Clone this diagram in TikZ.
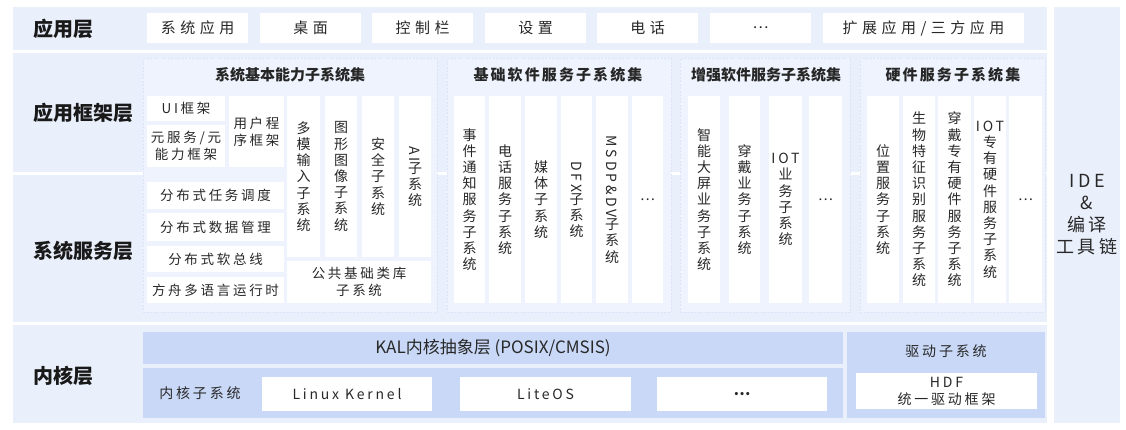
\documentclass[tikz,border=0pt]{standalone}
\usepackage{fontspec}
\usepackage{graphicx}
\setmainfont{Noto Sans CJK SC}
\newfontfamily\ta[LetterSpace=30]{Noto Sans CJK SC}
\newfontfamily\tb[LetterSpace=20]{Noto Sans CJK SC}
\newfontfamily\tc[LetterSpace=14]{Noto Sans CJK SC}
\definecolor{band}{RGB}{233,239,251}
\definecolor{grp}{RGB}{238,243,253}
\definecolor{grpline}{RGB}{220,229,248}
\definecolor{deep}{RGB}{200,216,246}
\definecolor{txt}{RGB}{40,40,40}
\newcommand\R[7]{\node[#2,anchor=north west,outer sep=0pt,inner sep=0pt,minimum width={(#5-#3)*1pt},minimum height={(#6-#4)*1pt}] (#1) at (#3,#4) {#7};}
\tikzset{
  bandbox/.style={fill=band,draw=none},
  wbox/.style={fill=white,draw=none,text=txt,align=center},
  topbox/.style={wbox,font=\ta\fontsize{15}{18}\selectfont},
  smallbox/.style={wbox,font=\tb\fontsize{13.5}{17}\selectfont},
  colbox/.style={wbox,font=\tb\fontsize{14}{16.2}\selectfont},
  grpbox/.style={fill=grp,draw=grpline,dash pattern=on 2pt off 1.5pt,line width=0.8pt},
  deepbox/.style={fill=deep,draw=none,text=txt,align=center},
  layer/.style={anchor=west,font=\fontsize{20}{24}\selectfont\bfseries,text=black!90},
  gtitle/.style={font=\fontsize{15}{18}\selectfont\bfseries,text=black!85},
  plain/.style={text=txt,align=center,font=\tb\fontsize{14}{17}\selectfont},
}
\begin{document}
\begin{tikzpicture}[x=1pt,y=-1pt]
\useasboundingbox[fill=white] (0,0) rectangle (1126,429);
% bands
\R{topband}{bandbox}{13}{7}{1047}{50}{}
\R{fwband}{bandbox}{13}{53}{1047}{172}{}
\R{svband}{bandbox}{13}{175}{1047}{322}{}
\R{kband}{bandbox}{13}{325}{1047}{423}{}
\R{ide}{bandbox,align=center,text=txt,font=\tb\fontsize{18}{22}\selectfont}{1054}{7}{1120}{423}{IDE\\\&\\编译\\工具链}
% layer labels
\node[layer] (l1) at (30,29) {应用层};
\node[layer] (l2) at (30,113) {应用框架层};
\node[layer] (l3) at (30,251) {系统服务层};
\node[layer] (l4) at (30,376) {内核层};
% application row
\R{a1}{topbox}{147}{13}{248}{43}{系统应用}
\R{a2}{topbox}{260}{13}{361}{43}{桌面}
\R{a3}{topbox}{372}{13}{473}{43}{控制栏}
\R{a4}{topbox}{485}{13}{586}{43}{设置}
\R{a5}{topbox}{597}{13}{698}{43}{电话}
\R{a6}{topbox}{710}{13}{811}{43}{…}
\R{a7}{topbox}{823}{13}{1024}{43}{扩展应用/三方应用}
% groups
\R{g1}{grpbox}{143}{58}{437}{312}{}
\R{g2}{grpbox}{447}{58}{671}{312}{}
\R{g3}{grpbox}{680}{58}{850}{312}{}
\R{g4}{grpbox}{860}{58}{1045}{312}{}
\node[gtitle] (t1) at (290,75) {系统基本能力子系统集};
\node[gtitle,font=\tc\fontsize{15}{18}\selectfont\bfseries] (t2) at (558,75) {基础软件服务子系统集};
\node[gtitle] (t3) at (766,75) {增强软件服务子系统集};
\node[gtitle,font=\tc\fontsize{15}{18}\selectfont\bfseries] (t4) at (953,75) {硬件服务子系统集};
% group 1
\R{ui}{smallbox}{147}{96}{225}{121}{UI框架}
\R{meta}{smallbox}{147}{125}{225}{167}{元服务/元\\能力框架}
\R{user}{smallbox}{229}{96}{284}{167}{用户程\\序框架}
\R{dm}{colbox}{287}{96}{320}{257}{多\\模\\输\\入\\子\\系\\统}
\R{gr}{colbox}{325}{96}{357}{257}{图\\形\\图\\像\\子\\系\\统}
\R{sec}{colbox}{362}{96}{394}{257}{安\\全\\子\\系\\统}
\R{ai}{colbox}{399}{96}{431}{257}{\rotatebox{-90}{AI}\\子\\系\\统}
\R{lib}{smallbox}{287}{261}{431}{303}{公共基础类库\\子系统}
\R{d1}{smallbox}{147}{182}{284}{209}{分布式任务调度}
\R{d2}{smallbox}{147}{213}{284}{241}{分布式数据管理}
\R{d3}{smallbox}{147}{246}{284}{272}{分布式软总线}
\R{d4}{smallbox}{147}{277}{284}{303}{方舟多语言运行时}
% group 2
\R{b1}{colbox}{454}{96}{485}{303}{事\\件\\通\\知\\服\\务\\子\\系\\统}
\R{b2}{colbox}{489}{96}{521}{303}{电\\话\\服\\务\\子\\系\\统}
\R{b3}{colbox}{525}{96}{557}{303}{媒\\体\\子\\系\\统}
\R{b4}{colbox}{561}{96}{592}{303}{\rotatebox{-90}{DFX}\\子\\系\\统}
\R{b5}{colbox}{596}{96}{628}{303}{\rotatebox{-90}{MSDP\&DV}\\子\\系\\统}
\R{b6}{colbox}{632}{96}{663}{303}{…}
% group 3
\R{c1}{colbox}{688}{96}{720}{303}{智\\能\\大\\屏\\业\\务\\子\\系\\统}
\R{c2}{colbox}{729}{96}{760}{303}{穿\\戴\\业\\务\\子\\系\\统}
\R{c3}{colbox}{769}{96}{802}{303}{IOT\\业\\务\\子\\系\\统}
\R{c4}{colbox}{809}{96}{842}{303}{…}
% group 4
\R{h1}{colbox}{867}{96}{899}{303}{位\\置\\服\\务\\子\\系\\统}
\R{h2}{colbox}{903}{96}{935}{303}{生\\物\\特\\征\\识\\别\\服\\务\\子\\系\\统}
\R{h3}{colbox}{938}{96}{971}{303}{穿\\戴\\专\\有\\硬\\件\\服\\务\\子\\系\\统}
\R{h4}{colbox}{974}{96}{1006}{303}{IOT\\专\\有\\硬\\件\\服\\务\\子\\系\\统}
\R{h5}{colbox}{1009}{96}{1042}{303}{…}
% kernel layer
\R{kal}{deepbox,font=\fontsize{17}{20}\selectfont}{143}{332}{843}{364}{KAL内核抽象层 (POSIX/CMSIS)}
\R{ksub}{deepbox}{143}{368}{843}{418}{}
\node[plain] (ksublbl) at (200,393) {内核子系统};
\R{linux}{smallbox,font=\tb\fontsize{14}{17}\selectfont}{262}{377}{432}{411}{Linux Kernel}
\R{lite}{smallbox,font=\tb\fontsize{14}{17}\selectfont}{460}{377}{631}{411}{LiteOS}
\R{kdots}{smallbox,font=\fontsize{15}{17}\selectfont\bfseries}{657}{377}{827}{411}{…}
\R{drv}{deepbox}{847}{332}{1045}{418}{}
\node[plain] (drvlbl) at (946,351) {驱动子系统};
\R{hdf}{smallbox,font=\tb\fontsize{14}{17}\selectfont}{856}{373}{1037}{409}{HDF\\统一驱动框架}
\end{tikzpicture}
\end{document}
